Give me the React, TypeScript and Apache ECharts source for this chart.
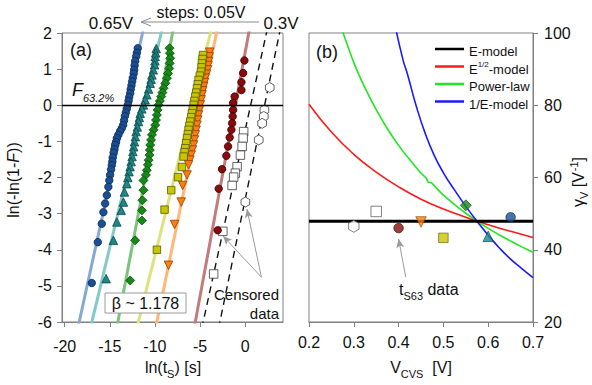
import React, { useEffect, useRef } from 'react';
import * as echarts from 'echarts';

const FONT = '"Liberation Sans", Arial, Helvetica, sans-serif';

// ---------------- Panel (a): Weibull plot ----------------
const xTicksA = [-20, -15, -10, -5, 0];
const xMinA = -20.3;
const xMaxA = 4.2;
const yMinA = -6;
const yMaxA = 2;

// order: 0.3V, 0.35V, 0.4V, 0.45V, 0.5V, 0.55V, 0.6V, 0.65V
const voltageLabels = ['0.3V', '0.35V', '0.4V', '0.45V', '0.5V', '0.55V', '0.6V', '0.65V'];
const fitX63 = [2.16, 0.61, -1.08, -4.83, -5.84, -9.56, -11.22, -13.13];
const fitBeta = [1.21, 1.14, 1.35, 1.21, 1.0, 1.32, 1.04, 1.14];

const pts030 = [[2.73, 0.49], [2.14, -0.13], [2.07, -0.31], [1.89, -0.5], [1.51, -0.96], [0.03, -2.68]];
const pts035 = [[-0.16, -0.73], [-0.22, -0.91], [-0.33, -1.14], [-0.52, -1.38], [-0.89, -1.7], [-1.08, -1.88], [-1.27, -1.99], [-1.44, -2.22], [-2.47, -3.49], [-3.49, -4.67]];
const pts040 = [[-0.08, 1.24], [-0.22, 0.89], [-0.41, 0.64], [-0.41, 0.42], [-1.16, 0.24], [-1.33, 0.06], [-1.33, -0.13], [-1.38, -0.31], [-1.44, -0.5], [-1.52, -0.68], [-1.71, -0.89], [-1.89, -1.14], [-2.08, -1.4], [-2.56, -1.77], [-2.93, -2.31], [-3.04, -3.46]];
const pts045 = [[-3.93, 1.47], [-3.98, 1.34], [-4.04, 1.21], [-4.1, 1.1], [-4.16, 0.98], [-4.28, 0.86], [-4.41, 0.75], [-4.5, 0.63], [-4.6, 0.52], [-4.7, 0.4], [-4.78, 0.29], [-4.88, 0.15], [-4.97, 0.01], [-5.06, -0.13], [-5.16, -0.27], [-5.25, -0.41], [-5.33, -0.55], [-5.43, -0.69], [-5.52, -0.82], [-5.62, -0.96], [-5.71, -1.1], [-5.84, -1.24], [-5.97, -1.38], [-6.12, -1.52], [-6.27, -1.65], [-6.44, -1.93], [-6.93, -2.22], [-7.08, -2.68], [-7.82, -3.3], [-8.49, -4.43]];
const pts050 = [[-4.67, 1.39], [-4.72, 1.28], [-4.78, 1.16], [-4.83, 1.05], [-4.89, 0.93], [-5.02, 0.82], [-5.16, 0.7], [-5.25, 0.58], [-5.33, 0.47], [-5.42, 0.35], [-5.52, 0.24], [-5.62, 0.12], [-5.71, 0.01], [-5.8, -0.1], [-5.89, -0.22], [-5.98, -0.33], [-6.08, -0.45], [-6.18, -0.57], [-6.27, -0.68], [-6.35, -0.8], [-6.44, -0.91], [-6.53, -1.05], [-6.63, -1.19], [-6.72, -1.3], [-6.82, -1.42], [-7.0, -1.71], [-7.44, -1.99], [-8.19, -2.35], [-8.93, -2.89], [-9.78, -4.0]];
const pts055 = [[-8.38, 1.58], [-8.34, 1.44], [-8.3, 1.3], [-8.36, 1.16], [-8.41, 1.02], [-8.55, 0.88], [-8.67, 0.75], [-8.85, 0.61], [-9.04, 0.47], [-9.17, 0.35], [-9.3, 0.24], [-9.45, 0.12], [-9.6, 0.01], [-9.7, -0.13], [-9.78, -0.27], [-9.88, -0.41], [-9.97, -0.55], [-10.15, -0.68], [-10.33, -0.82], [-10.43, -0.96], [-10.52, -1.1], [-10.56, -1.24], [-10.6, -1.38], [-10.7, -1.52], [-10.78, -1.65], [-10.9, -1.8], [-11.0, -1.93], [-11.27, -2.08], [-11.27, -2.35], [-11.38, -2.63], [-11.44, -2.91], [-11.44, -3.19], [-12.19, -3.74], [-12.74, -4.85]];
const pts060 = [[-9.86, 1.57], [-9.92, 1.45], [-9.97, 1.35], [-10.0, 1.23], [-10.04, 1.12], [-10.18, 0.98], [-10.33, 0.84], [-10.42, 0.72], [-10.52, 0.61], [-10.7, 0.45], [-10.89, 0.29], [-11.08, 0.15], [-11.27, 0.01], [-11.45, -0.1], [-11.63, -0.22], [-11.72, -0.34], [-11.82, -0.45], [-11.95, -0.6], [-12.08, -0.73], [-12.17, -0.87], [-12.27, -1.01], [-12.35, -1.15], [-12.44, -1.28], [-12.53, -1.42], [-12.63, -1.56], [-12.75, -1.7], [-12.86, -1.84], [-13.0, -2.0], [-13.11, -2.17], [-13.38, -2.4], [-13.49, -2.68], [-13.74, -2.91], [-14.22, -3.23], [-14.6, -3.74], [-15.41, -4.8]];
const pts065 = [[-11.9, 1.58], [-12.0, 1.45], [-12.08, 1.35], [-12.19, 1.22], [-12.25, 1.1], [-12.3, 0.98], [-12.35, 0.88], [-12.45, 0.76], [-12.52, 0.66], [-12.6, 0.55], [-12.68, 0.44], [-12.74, 0.33], [-12.85, 0.22], [-12.92, 0.12], [-13.0, 0.01], [-13.12, -0.1], [-13.22, -0.2], [-13.32, -0.3], [-13.42, -0.42], [-13.52, -0.55], [-13.68, -0.64], [-13.86, -0.72], [-14.05, -0.82], [-14.22, -0.91], [-14.32, -1.02], [-14.41, -1.1], [-14.5, -1.22], [-14.58, -1.32], [-14.68, -1.45], [-14.72, -1.56], [-14.78, -1.66], [-14.86, -1.78], [-14.97, -1.93], [-15.06, -2.08], [-15.16, -2.26], [-15.33, -2.49], [-15.52, -2.72], [-15.71, -2.96], [-15.89, -3.28], [-16.33, -3.79], [-17.0, -4.92]];
const pointsA = [pts030, pts035, pts040, pts045, pts050, pts055, pts060, pts065];

// ---------------- Panel (b): acceleration factor ----------------
const vcvs = [0.3, 0.35, 0.4, 0.45, 0.5, 0.55, 0.6, 0.65];
const gammaS63 = [46.5, 50.6, 46.0, 47.7, 43.3, 52.3, 43.7, 49.0];

const vGridB = [0.2, 0.25, 0.3, 0.35, 0.4, 0.45, 0.5, 0.55, 0.6, 0.65, 0.7];
const gammaEModel = [47.9, 47.9, 47.9, 47.9, 47.9, 47.9, 47.9, 47.9, 47.9, 47.9, 47.9];
const gammaSqrtE = [80.3, 72.6, 66.4, 61.5, 57.4, 54.0, 51.3, 49.0, 46.9, 45.1, 43.4];
const vPowerLaw = [0.272, 0.3, 0.325, 0.35, 0.375, 0.4, 0.425, 0.45, 0.462, 0.466, 0.472, 0.477, 0.485, 0.5, 0.525, 0.55, 0.575, 0.6, 0.625, 0.65, 0.675, 0.7];
const gammaPowerLaw = [101.5, 91.8, 84.8, 78.8, 73.5, 68.9, 64.9, 61.2, 59.8, 58.7, 58.6, 58.1, 57.0, 55.1, 52.5, 50.1, 47.9, 45.9, 44.1, 42.4, 40.8, 39.3];
const vInvE = [0.394, 0.41, 0.42, 0.44, 0.46, 0.48, 0.5, 0.525, 0.55, 0.575, 0.6, 0.625, 0.65, 0.675, 0.7];
const gammaInvE = [101, 92.5, 88.5, 79.5, 72.0, 66.0, 61.3, 56.5, 52.0, 47.9, 44.0, 40.5, 37.4, 34.8, 32.3];
const modelNames = ['E-model', 'E1/2-model', 'Power-law', '1/E-model'];

const HEX = 'path://M0,-10L8.66,-5L8.66,5L0,10L-8.66,5L-8.66,-5Z';
const styleA = [
  { symbol: HEX, size: 10, rotate: 0, fill: '#ffffff', edge: '#3a3a3a', line: '#111111', dashed: true },
  { symbol: 'rect', size: 8.5, rotate: 0, fill: '#ffffff', edge: '#3a3a3a', line: '#111111', dashed: true },
  { symbol: 'circle', size: 7.5, rotate: 0, fill: '#8a0b0b', edge: '#3a0000', line: '#c27c7c', dashed: false },
  { symbol: 'triangle', size: 8.5, rotate: 180, fill: '#ff7c10', edge: '#8a4000', line: '#ffb676', dashed: false },
  { symbol: 'rect', size: 7.5, rotate: 0, fill: '#c9c500', edge: '#5c5a00', line: '#dde27c', dashed: false },
  { symbol: 'diamond', size: 9, rotate: 0, fill: '#168a16', edge: '#0a4a0a', line: '#7cc47c', dashed: false },
  { symbol: 'triangle', size: 8.5, rotate: 0, fill: '#1f8787', edge: '#0c4545', line: '#82cac6', dashed: false },
  { symbol: 'circle', size: 7.5, rotate: 0, fill: '#1b4f93', edge: '#0c2a55', line: '#86a9d3', dashed: false },
];

const TXT = '#111111';
const AX = '#808080';

function text(x: number, y: number, t: string, size: number, align = 'center', extra: any = {}) {
  return {
    type: 'text', x, y, z: 50,
    style: { text: t, font: `${size}px ${FONT}`, fontSize: size, fontFamily: FONT, fill: TXT, align, verticalAlign: 'middle', textAlign: align, textVerticalAlign: 'middle', ...extra },
  };
}

function buildOption() {
  const series: any[] = [];
  // fitted lines
  fitX63.forEach((x63, i) => {
    const s = styleA[i];
    series.push({
      type: 'line', name: 'fit' + voltageLabels[i], xAxisIndex: 0, yAxisIndex: 0,
      data: [[x63 + (yMinA - 0.5) / fitBeta[i], yMinA - 0.5], [x63 + (yMaxA + 0.5) / fitBeta[i], yMaxA + 0.5]],
      showSymbol: false, symbol: 'none', clip: true, z: 2, silent: true,
      lineStyle: s.dashed ? { color: s.line, width: 1.4, type: [7, 5] } : { color: s.line, width: 3, type: 'solid' },
      ...(i === 0 ? {
        markLine: {
          silent: true, symbol: ['none', 'none'], label: { show: false },
          lineStyle: { color: '#000', width: 1.4, type: 'solid' },
          data: [{ yAxis: 0 }],
        },
      } : {}),
    });
  });
  // data points
  pointsA.forEach((pts, i) => {
    const s = styleA[i];
    series.push({
      type: 'scatter', name: 'pts' + voltageLabels[i], xAxisIndex: 0, yAxisIndex: 0, data: pts,
      symbol: s.symbol, symbolSize: s.size, symbolRotate: s.rotate, symbolKeepAspect: true, z: 3, silent: true,
      itemStyle: { color: s.fill, borderColor: s.edge, borderWidth: 0.8, opacity: 1 },
      ...(i === 0 ? {
        markLine: {
          silent: true, symbol: ['none', 'arrow'], symbolSize: [6, 9], label: { show: false },
          lineStyle: { color: '#9a9a9a', width: 1, type: 'solid' },
          data: [
            [{ coord: [1.81, -4.76] }, { coord: [-2.45, -3.62] }],
            [{ coord: [1.81, -4.76] }, { coord: [0.2, -2.87] }],
          ],
        },
      } : {}),
    });
  });

  // panel (b) model curves
  series.push({
    type: 'line', name: modelNames[0], xAxisIndex: 1, yAxisIndex: 1, z: 5,
    data: vGridB.map((v, i) => [v, gammaEModel[i]]), showSymbol: false, symbol: 'none',
    lineStyle: { color: '#000000', width: 3 }, itemStyle: { color: '#000000' },
  });
  series.push({
    type: 'line', name: modelNames[1], xAxisIndex: 1, yAxisIndex: 1, z: 4, smooth: true,
    data: vGridB.map((v, i) => [v, gammaSqrtE[i]]), showSymbol: false, symbol: 'none',
    lineStyle: { color: '#ff1a1a', width: 1.6 }, itemStyle: { color: '#ff1a1a' },
  });
  series.push({
    type: 'line', name: modelNames[2], xAxisIndex: 1, yAxisIndex: 1, z: 4, smooth: 0.2, clip: true,
    data: vPowerLaw.map((v, i) => [v, gammaPowerLaw[i]]), showSymbol: false, symbol: 'none',
    lineStyle: { color: '#22e622', width: 1.6 }, itemStyle: { color: '#22e622' },
  });
  series.push({
    type: 'line', name: modelNames[3], xAxisIndex: 1, yAxisIndex: 1, z: 4, smooth: true, clip: true,
    data: vInvE.map((v, i) => [v, gammaInvE[i]]), showSymbol: false, symbol: 'none',
    lineStyle: { color: '#1a1aff', width: 1.6 }, itemStyle: { color: '#1a1aff' },
  });
  // panel (b) t_S63 points
  series.push({
    type: 'scatter', name: 'tS63', xAxisIndex: 1, yAxisIndex: 1, z: 6, silent: true,
    data: vcvs.map((v, i) => ({
      value: [v, gammaS63[i]],
      symbol: styleA[i].symbol, symbolSize: styleA[i].size + 2, symbolRotate: styleA[i].rotate,
      itemStyle: { color: styleA[i].fill, borderColor: styleA[i].edge, borderWidth: 0.8 },
    })),
    symbolKeepAspect: true,
    markLine: {
      silent: true, symbol: ['none', 'arrow'], symbolSize: [6, 9], label: { show: false },
      lineStyle: { color: '#9a9a9a', width: 1, type: 'solid' },
      data: [[{ coord: [0.416, 32.4] }, { coord: [0.4, 43.0] }]],
    },
  });

  const labelA = { color: TXT, fontSize: 16, fontFamily: FONT };
  const sub = { fontSize: 11, lineHeight: 11, verticalAlign: 'top', padding: [9, 0, 0, 0], fontFamily: FONT, fill: TXT };
  const mainTok = { fontSize: 16, lineHeight: 18, verticalAlign: 'top', fontFamily: FONT, fill: TXT };

  return {
    animation: false,
    backgroundColor: '#ffffff',
    textStyle: { fontFamily: FONT },
    grid: [
      { left: 62, top: 33, width: 221, height: 289, show: true, borderColor: AX, borderWidth: 1, backgroundColor: 'transparent' },
      { left: 309, top: 33, width: 224, height: 289, show: true, borderColor: AX, borderWidth: 1, backgroundColor: 'transparent' },
    ],
    xAxis: [
      {
        type: 'value', gridIndex: 0, min: xMinA, max: xMaxA, splitLine: { show: false },
        axisLine: { show: true, onZero: false, lineStyle: { color: AX } },
        axisTick: { show: true, length: 5, lineStyle: { color: AX }, customValues: xTicksA },
        axisLabel: { ...labelA, margin: 16, customValues: xTicksA, formatter: (v: number) => (Math.abs(v % 5) < 1e-6 ? String(v) : '') },
      },
      {
        type: 'value', gridIndex: 1, min: 0.2, max: 0.7, interval: 0.1, splitLine: { show: false },
        axisLine: { show: true, onZero: false, lineStyle: { color: AX } },
        axisTick: { show: true, length: 5, lineStyle: { color: AX } },
        axisLabel: { ...labelA, margin: 12, formatter: (v: number) => v.toFixed(1) },
      },
    ],
    yAxis: [
      {
        type: 'value', gridIndex: 0, min: yMinA, max: yMaxA, interval: 1, splitLine: { show: false },
        axisLine: { show: true, onZero: false, lineStyle: { color: AX } },
        axisTick: { show: true, length: 5, lineStyle: { color: AX } },
        axisLabel: { ...labelA, margin: 10 },
      },
      {
        type: 'value', gridIndex: 1, position: 'right', min: 20, max: 100, interval: 20, splitLine: { show: false },
        axisLine: { show: true, onZero: false, lineStyle: { color: AX } },
        axisTick: { show: true, length: 5, lineStyle: { color: AX } },
        axisLabel: { ...labelA, margin: 11 },
      },
    ],
    legend: {
      data: modelNames.map((n) => ({ name: n, icon: 'rect' })),
      orient: 'vertical', left: 430, top: 38, itemWidth: 29, itemHeight: 2.5, itemGap: 2.5,
      selectedMode: false,
      formatter: (name: string) => (name === 'E1/2-model' ? '{n|E}{sup|1/2}{n|-model}' : '{n|' + name + '}'),
      textStyle: {
        color: TXT, fontSize: 13, fontFamily: FONT,
        rich: {
          n: { color: TXT, fontSize: 13, fontFamily: FONT, lineHeight: 12, verticalAlign: 'top', padding: [2, 0, 0, 0] },
          sup: { color: TXT, fontSize: 8, fontFamily: FONT, lineHeight: 8, verticalAlign: 'top' },
        },
      },
    },
    series,
    graphic: [
      text(201, 12, 'steps: 0.05V', 16),
      text(111, 23, '0.65V', 17),
      text(281, 23, '0.3V', 17),
      { type: 'line', z: 50, shape: { x1: 259, y1: 22, x2: 142, y2: 22 }, style: { stroke: '#8a8a8a', lineWidth: 1 } },
      { type: 'polyline', z: 50, shape: { points: [[151, 18], [141, 22], [151, 26]] }, style: { stroke: '#8a8a8a', lineWidth: 1, fill: 'none' } },
      text(81, 50, '(a)', 18),
      text(327, 52, '(b)', 18),
      {
        type: 'text', x: 72, y: 91, z: 50,
        style: {
          text: '{f|F}{s|63.2%}', align: 'left', verticalAlign: 'middle', textAlign: 'left', textVerticalAlign: 'middle',
          rich: {
            f: { fontSize: 18, lineHeight: 20, verticalAlign: 'top', fontStyle: 'italic', fontFamily: FONT, fill: TXT },
            s: { fontSize: 11, lineHeight: 11, verticalAlign: 'top', padding: [11, 0, 0, 0], fontStyle: 'italic', fontFamily: FONT, fill: TXT },
          },
        },
      },
      {
        type: 'group', z: 100,
        children: [
          { type: 'rect', z: 100, shape: { x: 105, y: 293, width: 81, height: 20 }, style: { fill: '#ffffff', stroke: '#9a9a9a', lineWidth: 1 } },
          { ...text(145.5, 303.5, 'β ~ 1.178', 16), z: 101 },
        ],
      },
      text(279, 294, 'Censored', 15, 'right'),
      text(279, 313, 'data', 15, 'right'),
      {
        type: 'text', x: 399, y: 290, z: 50,
        style: {
          text: '{a|t}{s|S63}{a| data}', align: 'left', verticalAlign: 'middle', textAlign: 'left', textVerticalAlign: 'middle',
          rich: { a: mainTok, s: sub },
        },
      },
      {
        type: 'text', x: 173, y: 368, z: 50,
        style: {
          text: '{a|ln(t}{s|S}{a|) [s]}', align: 'center', verticalAlign: 'middle', textAlign: 'center', textVerticalAlign: 'middle',
          rich: { a: mainTok, s: sub },
        },
      },
      {
        type: 'text', x: 421, y: 368, z: 50,
        style: {
          text: '{a|V}{s|CVS}{a|  [V]}', align: 'center', verticalAlign: 'middle', textAlign: 'center', textVerticalAlign: 'middle',
          rich: { a: mainTok, s: sub },
        },
      },
      {
        type: 'text', x: 14, y: 180, z: 50, rotation: Math.PI / 2,
        style: {
          text: '{a|ln(-ln(1-}{i|F}{a|))}', align: 'center', verticalAlign: 'middle', textAlign: 'center', textVerticalAlign: 'middle',
          rich: { a: mainTok, i: { ...mainTok, fontStyle: 'italic' } },
        },
      },
      {
        type: 'text', x: 577, y: 182, z: 50, rotation: Math.PI / 2,
        style: {
          text: '{a|γ}{s|V}{a| [V}{p|-1}{a|]}', align: 'center', verticalAlign: 'middle', textAlign: 'center', textVerticalAlign: 'middle',
          rich: {
            a: { ...mainTok, padding: [2, 0, 0, 0] },
            s: { ...sub, padding: [10, 0, 0, 0] },
            p: { fontSize: 11, lineHeight: 11, verticalAlign: 'top', fontFamily: FONT, fill: TXT, padding: [0, 0, 0, 1] },
          },
        },
      },
    ],
  };
}

export default function App() {
  const ref = useRef<HTMLDivElement>(null);
  useEffect(() => {
    if (!ref.current) return;
    const chart = echarts.init(ref.current, undefined, { renderer: 'svg' });
    chart.setOption(buildOption() as any);
    return () => chart.dispose();
  }, []);
  return <div ref={ref} style={{ position: 'fixed', left: 0, top: 0, width: 592, height: 385 }} />;
}
